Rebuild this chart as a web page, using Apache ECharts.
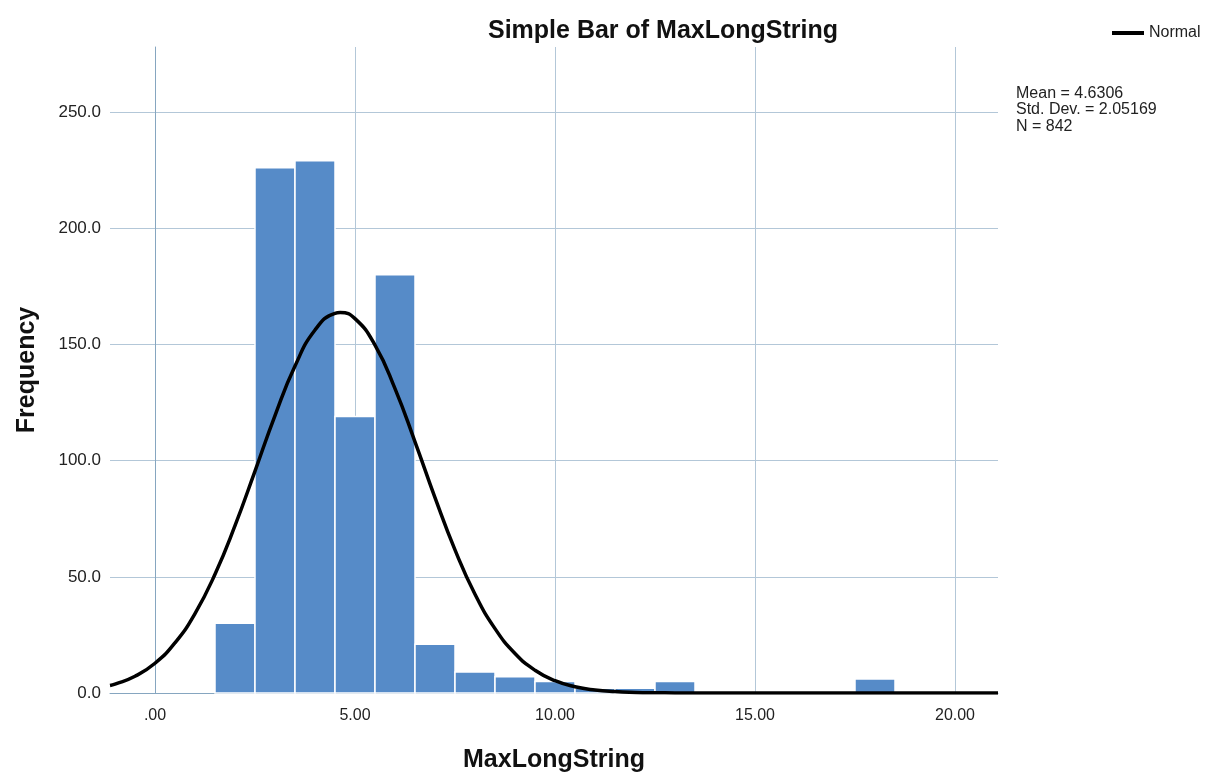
<!DOCTYPE html>
<html>
<head>
<meta charset="utf-8">
<script src="https://cdn.jsdelivr.net/npm/echarts@6/dist/echarts.min.js"></script>
<style>html,body{margin:0;padding:0;background:#fff}#c{width:1216px;height:778px}</style>
</head>
<body>
<div id="c"></div>
<script>
// Histogram bins (bin centre) and frequencies
const binCenters = [2, 3, 4, 5, 6, 7, 8, 9, 10, 11, 12, 13, 18];
const binCounts  = [30, 226, 229, 119, 180, 21, 9, 7, 5, 2, 2, 5, 6];
const binWidth = 1;

// Normal curve points
const curveX = [-1.125, -1, -0.5, 0, 0.5, 1, 1.5, 2, 2.5, 3, 3.5, 4, 4.5, 4.63, 5, 5.5, 6, 6.5, 7, 7.5, 8, 8.5, 9, 9.5, 10, 10.5, 11, 11.5, 12, 12.5, 13, 14, 21.075];
const curveY = [3.2, 3.8, 7.2, 12.8, 21.6, 34.2, 51.1, 72.0, 95.5, 119.4, 140.7, 156.2, 163.4, 163.7, 161.1, 149.7, 131.0, 108.1, 84.1, 61.6, 42.5, 27.7, 17.0, 9.8, 5.3, 2.7, 1.3, 0.6, 0.26, 0.1, 0.04, 0, 0];

// Axis ticks
const xTicks = [0, 5, 10, 15, 20];
const xTickLabels = ['.00', '5.00', '10.00', '15.00', '20.00'];
const yTicks = [0, 50, 100, 150, 200, 250];
const yTickLabels = ['0.0', '50.0', '100.0', '150.0', '200.0', '250.0'];

const statsLines = ['Mean = 4.6306', 'Std. Dev. = 2.05169', 'N = 842'];

const FONT = '"Liberation Sans", Arial, sans-serif';
const GRID_COLOR = '#b3c7d8';
const AXIS_COLOR = '#86a6c0';
const BAR_COLOR = '#568bc8';

const chart = echarts.init(document.getElementById('c'), null, {renderer: 'canvas'});

const gridLineStyle = {color: GRID_COLOR, width: 1, type: 'solid'};

chart.setOption({
  animation: false,
  backgroundColor: '#fff',
  textStyle: {fontFamily: FONT},
  title: [
    {text: 'Simple Bar of MaxLongString', left: 483, top: 14,
     textStyle: {fontFamily: FONT, fontSize: 25, fontWeight: 'bold', color: '#111'}},
    {text: statsLines.join('\n'), left: 1011, top: 80,
     textStyle: {fontFamily: FONT, fontSize: 16, fontWeight: 'normal', color: '#222', lineHeight: 16.5}}
  ],
  legend: {
    data: [{name: 'Normal', icon: 'rect'}], left: 1107, top: 20, itemWidth: 32, itemHeight: 4,
    itemStyle: {color: '#000'},
    textStyle: {fontFamily: FONT, fontSize: 16, color: '#222'}
  },
  grid: {left: 110, right: 218, top: 47, bottom: 81, containLabel: false},
  xAxis: {
    type: 'value', min: -1.125, max: 21.075,
    name: 'MaxLongString', nameLocation: 'middle', nameGap: 55,
    nameTextStyle: {fontFamily: FONT, fontSize: 25, fontWeight: 'bold', color: '#111'},
    axisLine: {show: true, lineStyle: {color: AXIS_COLOR, width: 1}},
    axisTick: {show: false},
    splitLine: {show: false},
    axisLabel: {
      customValues: xTicks, margin: 15, fontFamily: FONT, fontSize: 16, color: '#222',
      formatter: v => { const i = xTicks.indexOf(v); return i >= 0 ? xTickLabels[i] : ''; }
    }
  },
  yAxis: {
    type: 'value', min: 0, max: 278,
    name: 'Frequency', nameLocation: 'middle', nameGap: 70,
    nameTextStyle: {fontFamily: FONT, fontSize: 25, fontWeight: 'bold', color: '#111'},
    axisLine: {show: true, lineStyle: {color: AXIS_COLOR, width: 1}},
    axisTick: {show: false},
    splitLine: {show: false},
    axisLabel: {
      customValues: yTicks, margin: 9, fontFamily: FONT, fontSize: 17, color: '#222',
      formatter: v => { const i = yTicks.indexOf(v); return i >= 0 ? yTickLabels[i] : ''; }
    }
  },
  series: [
    {
      name: 'grid', type: 'line', data: [], z: 0, silent: true,
      markLine: {
        silent: true, z: 0, symbol: ['none', 'none'], label: {show: false}, animation: false,
        lineStyle: gridLineStyle,
        data: yTicks.filter(v => v > 0).map(v => ({yAxis: v}))
              .concat(xTicks.map(v => ({xAxis: v})))
      }
    },
    {
      name: 'Bars', type: 'custom', z: 10,
      data: binCenters.map((c, i) => [c, binCounts[i]]),
      renderItem: function (params, api) {
        const x = api.value(0), y = api.value(1);
        const p0 = api.coord([x - binWidth / 2, y]);
        const p1 = api.coord([x + binWidth / 2, 0]);
        return {
          type: 'rect',
          shape: {x: p0[0], y: p0[1], width: p1[0] - p0[0], height: p1[1] - p0[1]},
          style: {fill: BAR_COLOR, stroke: '#ffffff', lineWidth: 1.5}
        };
      }
    },
    {
      name: 'Normal', type: 'line', z: 11, symbol: 'none', smooth: 0.5,
      data: curveX.map((x, i) => [x, curveY[i]]),
      lineStyle: {color: '#000', width: 3.5},
      itemStyle: {color: '#000'}
    }
  ]
});
</script>
</body>
</html>
